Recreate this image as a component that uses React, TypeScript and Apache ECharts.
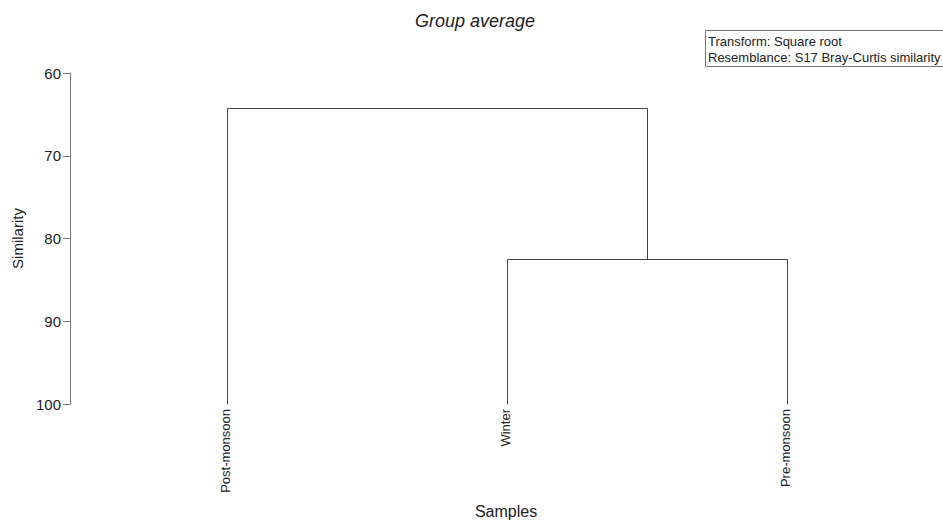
import React, { useEffect, useRef } from "react";
import * as echarts from "echarts";

const leaves = ["Post-monsoon", "Winter", "Pre-monsoon"];
const leafPositions = [1, 2, 3];
// [leftX, leftHeight, rightX, rightHeight, mergeHeight]
const merges: number[][] = [
  [2, 100, 3, 100, 82.5],
  [1, 100, 2.5, 82.5, 64.2],
];
const yTicks = [60, 70, 80, 90, 100];
const infoLines = ["Transform: Square root", "Resemblance: S17 Bray-Curtis similarity"];

const FONT = "Liberation Sans, Arial, sans-serif";

export default function App() {
  const ref = useRef<HTMLDivElement>(null);
  useEffect(() => {
    if (!ref.current) return;
    const chart = echarts.init(ref.current, null, { renderer: "svg" });
    chart.setOption({
      animation: false,
      backgroundColor: "#ffffff",
      grid: { left: 70, right: 16, top: 73, bottom: 119 },
      xAxis: {
        type: "value",
        min: 0.44,
        max: 3.5,
        show: false,
      },
      yAxis: {
        type: "value",
        min: yTicks[0],
        max: yTicks[yTicks.length - 1],
        interval: 10,
        inverse: true,
        name: "Similarity",
        nameLocation: "middle",
        nameGap: 45,
        nameTextStyle: { fontFamily: FONT, fontSize: 15, color: "#222" },
        axisLine: { show: true, lineStyle: { color: "#777", width: 1 } },
        axisTick: { show: true, length: 7, lineStyle: { color: "#777" } },
        axisLabel: { fontFamily: FONT, fontSize: 15, color: "#222", margin: 9 },
        splitLine: { show: false },
      },
      graphic: [
        {
          type: "text",
          x: 475,
          y: 21,
          style: {
            text: "Group average",
            font: `italic 18px ${FONT}`,
            fill: "#222",
            align: "center",
            verticalAlign: "middle",
          },
        },
        {
          type: "rect",
          shape: { x: 705.5, y: 30.5, width: 245, height: 36 },
          style: { fill: "#fff", stroke: "#777", lineWidth: 1 },
        },
        {
          type: "text",
          x: 708,
          y: 41,
          style: {
            text: infoLines[0],
            font: `13px ${FONT}`,
            fill: "#222",
            verticalAlign: "middle",
          },
        },
        {
          type: "text",
          x: 708,
          y: 57,
          style: {
            text: infoLines[1],
            font: `13px ${FONT}`,
            fill: "#222",
            verticalAlign: "middle",
          },
        },
        {
          type: "text",
          x: 506,
          y: 511,
          style: {
            text: "Samples",
            font: `16px ${FONT}`,
            fill: "#222",
            align: "center",
            verticalAlign: "middle",
          },
        },
      ],
      series: [
        {
          type: "custom",
          coordinateSystem: "cartesian2d",
          data: merges,
          encode: { x: [0, 2], y: [1, 3, 4] },
          renderItem: (params: any, api: any) => {
            const lx = api.value(0);
            const lh = api.value(1);
            const rx = api.value(2);
            const rh = api.value(3);
            const mh = api.value(4);
            const p1 = api.coord([lx, lh]);
            const p2 = api.coord([lx, mh]);
            const p3 = api.coord([rx, mh]);
            const p4 = api.coord([rx, rh]);
            const r = (p: number[]) => [Math.round(p[0]) + 0.5, Math.round(p[1]) + 0.5];
            return {
              type: "polyline",
              shape: { points: [r(p1), r(p2), r(p3), r(p4)] },
              style: { stroke: "#444", lineWidth: 1, fill: "none" },
            };
          },
        },
        {
          type: "custom",
          coordinateSystem: "cartesian2d",
          data: leaves.map((name, i) => [leafPositions[i], 100, name]),
          encode: { x: 0, y: 1 },
          renderItem: (params: any, api: any) => {
            const p = api.coord([api.value(0), api.value(1)]);
            const name = leaves[params.dataIndex];
            return {
              type: "text",
              x: Math.round(p[0]) - 2,
              y: p[1] + 5,
              rotation: Math.PI / 2,
              style: {
                text: name,
                font: `13px ${FONT}`,
                fill: "#222",
                align: "right",
                verticalAlign: "middle",
              },
            };
          },
        },
      ],
    });
    return () => chart.dispose();
  }, []);
  return <div ref={ref} style={{ width: 943, height: 523, position: "absolute", left: 0, top: 0 }} />;
}
